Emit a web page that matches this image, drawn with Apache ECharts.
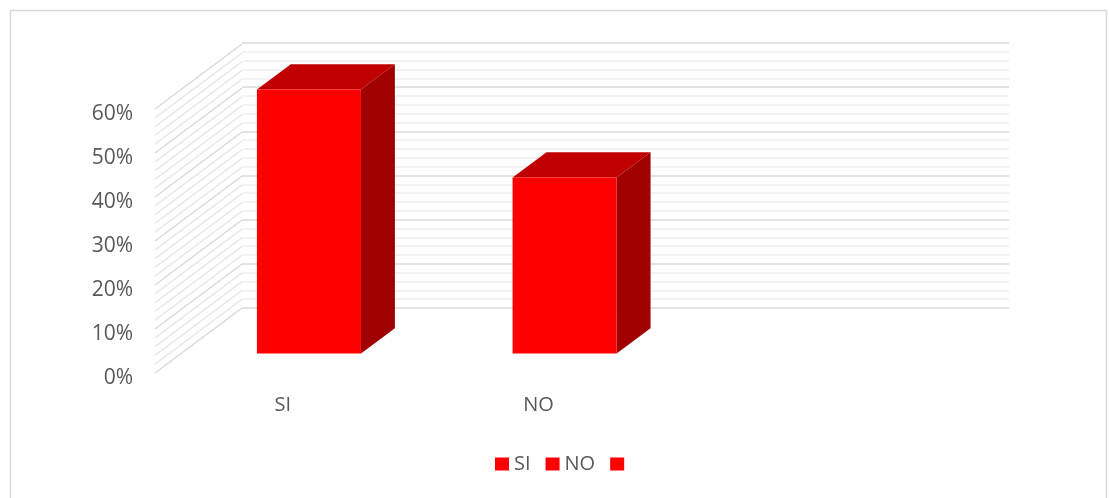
<!DOCTYPE html>
<html>
<head>
<meta charset="utf-8">
<script src="https://cdn.jsdelivr.net/npm/echarts@6/dist/echarts.min.js"></script>
<style>html,body{margin:0;padding:0;background:#fff}#c{width:1109px;height:498px}</style>
</head>
<body>
<div id="c"></div>
<script>
// ---- data ----
var categories = ['SI', 'NO', ''];
var seriesNames = ['SI', 'NO', ' '];
var values = [0.60, 0.40, null];
var yTickLabels = ['0%', '10%', '20%', '30%', '40%', '50%', '60%'];
var yMax = 0.6, yStep = 0.1, minorSplits = 5;

// ---- layout / style constants ----
var DEPTH = [87, -65];          // floor depth vector (front -> back wall)
var BAR_OFF = 0.30;             // bar front face position along depth
var BAR_DEPTH = 0.39;           // bar depth as fraction of floor depth
var BAR_W = 0.407;              // bar width as fraction of category band
var FONT = "'Open Sans', sans-serif";
var TXT = '#595959';

// side-wall gridline values (every minor tick)
var wallTicks = [];
for (var i = 0; i <= Math.round(yMax / yStep) * minorSplits; i++) {
  wallTicks.push(+(i * yStep / minorSplits).toFixed(4));
}

var chart = echarts.init(document.getElementById('c'), null, {renderer: 'canvas'});

function barRender(idx) {
  return function (params, api) {
    var v = api.value(1);
    if (v == null || isNaN(v)) return null;
    var c = api.value(0);
    var base = api.coord([c, 0]);
    var top = api.coord([c, v]);
    var band = api.size([1, 0])[0];
    var w = band * BAR_W;
    var ox = DEPTH[0] * BAR_OFF, oy = DEPTH[1] * BAR_OFF;
    var dx = DEPTH[0] * BAR_DEPTH, dy = DEPTH[1] * BAR_DEPTH;
    var xl = base[0] + ox - w / 2, xr = base[0] + ox + w / 2;
    var yb = base[1] + oy, yt = top[1] + oy;
    return {
      type: 'group',
      children: [
        {type: 'polygon', shape: {points: [[xr, yt], [xr + dx, yt + dy], [xr + dx, yb + dy], [xr, yb]]},
          style: {fill: '#A00000'}},
        {type: 'polygon', shape: {points: [[xl, yt], [xr, yt], [xr + dx, yt + dy], [xl + dx, yt + dy]]},
          style: {fill: '#C00000'}},
        {type: 'rect', shape: {x: xl, y: yt, width: xr - xl, height: yb - yt},
          style: {fill: '#FF0000'}}
      ]
    };
  };
}

var barSeries = seriesNames.map(function (name, i) {
  return {
    type: 'custom',
    name: name,
    xAxisIndex: 0, yAxisIndex: 0,
    itemStyle: {color: '#FF0000'},
    encode: {x: 0, y: 1},
    data: values[i] == null ? [] : [[i, values[i]]],
    renderItem: barRender(i),
    z: 5
  };
});

var option = {
  animation: false,
  backgroundColor: '#ffffff',
  graphic: [{
    type: 'rect', left: 8, top: 8, silent: true,
    shape: {width: 1096, height: 500},
    style: {fill: 'none', stroke: '#d9d9d9', lineWidth: 1.5}
  }],
  grid: [
    {left: 155, right: 187, top: 109, bottom: 125},   // front plane
    {left: 242, right: 100, top: 43, bottom: 190}     // back wall
  ],
  xAxis: [
    {type: 'category', gridIndex: 0, data: categories,
      axisLine: {show: false}, axisTick: {show: false},
      axisLabel: {fontSize: 20, color: TXT, fontFamily: FONT, margin: 22}},
    {type: 'value', gridIndex: 1, show: false, min: 0, max: 1}
  ],
  yAxis: [
    {type: 'value', gridIndex: 0, min: 0, max: yMax, interval: yStep,
      axisLine: {show: false}, axisTick: {show: false}, splitLine: {show: false},
      axisLabel: {fontSize: 21, color: TXT, fontFamily: FONT, margin: 22,
        verticalAlign: 'top', lineHeight: 11,
        formatter: function (v) { return yTickLabels[Math.round(v / yStep)]; }}},
    {type: 'value', gridIndex: 1, min: 0, max: yMax, interval: yStep,
      axisLine: {show: false}, axisTick: {show: false}, axisLabel: {show: false},
      splitLine: {show: true, lineStyle: {color: '#d9d9d9', width: 1.5}},
      minorTick: {show: false, splitNumber: minorSplits},
      minorSplitLine: {show: true, lineStyle: {color: '#eeeeee', width: 1.5}}}
  ],
  legend: {
    data: seriesNames,
    left: 490, top: 449,
    icon: 'rect', itemWidth: 14, itemHeight: 13, itemGap: 15,
    textStyle: {fontSize: 20, color: TXT, fontFamily: FONT},
    selectedMode: false
  },
  series: [{
    type: 'custom',
    name: '__wall',
    xAxisIndex: 0, yAxisIndex: 0,
    silent: true,
    data: wallTicks.map(function (t) { return [0, t]; }),
    renderItem: function (params, api) {
      var t = api.value(1);
      var cs = params.coordSys;
      var y = api.coord([0, t])[1];
      var major = Math.abs(t / yStep - Math.round(t / yStep)) < 1e-6;
      return {
        type: 'line',
        shape: {x1: cs.x, y1: y, x2: cs.x + DEPTH[0], y2: y + DEPTH[1]},
        style: {stroke: major ? '#d9d9d9' : '#e8e8e8', lineWidth: 1.5}
      };
    },
    z: 1
  }].concat(barSeries)
};
chart.setOption(option);
</script>
</body>
</html>
